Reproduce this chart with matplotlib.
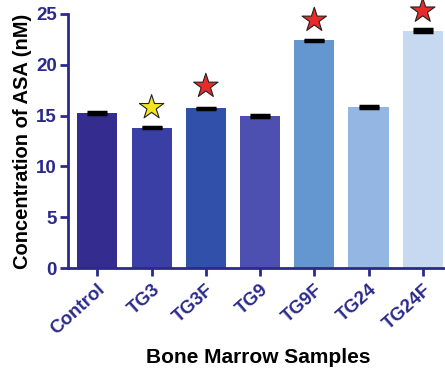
import numpy as np
from matplotlib import pyplot as plt

samples = ["Control", "TG3", "TG3F", "TG9", "TG9F", "TG24", "TG24F"]
asa = [15.25, 13.8, 15.7, 14.95, 22.4, 15.8, 23.35]
asa_err = [0.06, 0.06, 0.06, 0.06, 0.06, 0.1, 0.15]
bar_colors = ["#342c8e", "#3a3fa6", "#3150aa", "#4d50b0", "#6496cf", "#93b6e2", "#c6d9f1"]
# significance marks: (sample index, star height, colour)
star_idx = [1, 2, 4, 6]
star_y = [15.8, 17.9, 24.4, 25.3]
star_col = ["#f3e421", "#e82a2a", "#e82a2a", "#e82a2a"]

navy = "#2b2a8c"

fig = plt.figure(figsize=(4.45, 3.78), dpi=100)
ax = fig.add_axes([0.153, 0.291, 0.847, 0.672])

x = np.arange(len(samples))
ax.bar(x, asa, width=0.74, color=bar_colors, yerr=asa_err, capsize=7,
       error_kw=dict(ecolor="black", elinewidth=1.5, capthick=2.5))
ax.scatter(x[star_idx], star_y, marker="*", s=340, c=star_col,
           edgecolors="#222222", linewidths=0.8, zorder=5, clip_on=False)

ax.set_xlim(-0.54, 6.41)
ax.set_ylim(0, 25)
ax.set_yticks([0, 5, 10, 15, 20, 25])
ax.set_xticks(x)
ax.set_xticklabels(samples, rotation=42, ha="right", rotation_mode="anchor")

for s in ["top", "right"]:
    ax.spines[s].set_visible(False)
for s in ["left", "bottom"]:
    ax.spines[s].set_color(navy)
    ax.spines[s].set_linewidth(2)
ax.tick_params(colors=navy, width=2, length=6, labelsize=13.5)
ax.tick_params(axis="y", pad=2)
for lab in ax.get_xticklabels() + ax.get_yticklabels():
    lab.set_fontweight("bold")
    lab.set_color(navy)
    lab.set_family("Liberation Sans")

ax.set_ylabel("Concentration of ASA (nM)", fontsize=14.5, fontweight="bold",
              family="Liberation Sans", labelpad=3)
fig.text(0.58, 0.04, "Bone Marrow Samples", ha="center", fontsize=15,
         fontweight="bold", family="Liberation Sans")

fig.savefig("out.png", dpi=100)
